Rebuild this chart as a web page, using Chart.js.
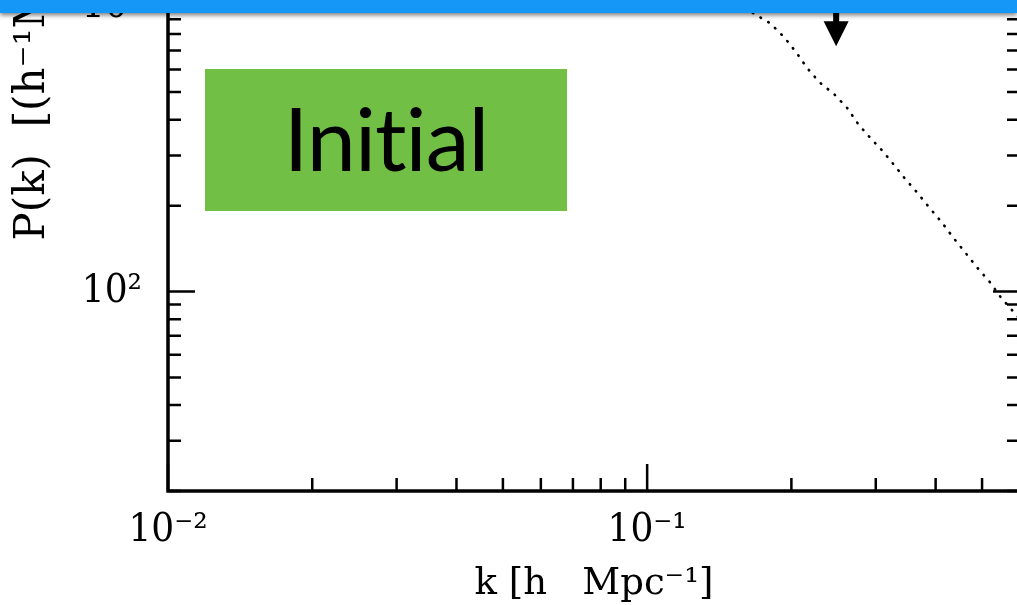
<!DOCTYPE html>
<html>
<head>
<meta charset="utf-8">
<script src="https://cdn.jsdelivr.net/npm/chart.js@4.4.1/dist/chart.umd.min.js"></script>
<style>
  html, body { margin: 0; padding: 0; width: 1017px; height: 605px; overflow: hidden; background: #fff; }
  #wrap { position: absolute; left: 0; top: -425px; width: 1060px; height: 1076px; }
  #topbar { position: absolute; left: 0; top: 0; width: 1017px; height: 13px; background: #1597f7;
            box-shadow: 0 2px 5px rgba(0,0,0,0.55); z-index: 3; }
  #badge { position: absolute; left: 205px; top: 69px; width: 362px; height: 142px; background: #71bf44;
           display: flex; align-items: center; justify-content: center; box-sizing: border-box;
           padding-bottom: 6px; letter-spacing: -1px;
           font-family: Lato, "Open Sans", sans-serif; font-size: 88px; color: #000; z-index: 2;
           font-variant-ligatures: none; font-feature-settings: "liga" 0, "clig" 0; }
</style>
</head>
<body>
<div id="wrap"><canvas id="pk" width="1060" height="1076"></canvas></div>
<div id="topbar"></div>
<div id="badge">Initial</div>
<script>
// Initial linear power spectrum, P(k) in (h^-1 Mpc)^3 versus k in h Mpc^-1
const kValues  = [0.160, 0.1665, 0.1806, 0.1932, 0.2046, 0.2158, 0.2286, 0.2455, 0.2615, 0.2758,
                  0.2921, 0.3110, 0.3264, 0.3457, 0.3663, 0.3880, 0.4130, 0.4354, 0.4612, 0.4886,
                  0.5201, 0.5458, 0.5808, 0.600];
const pkValues = [983, 945, 872, 779, 690, 607, 542, 492, 440, 386,
                  346, 309, 280, 248, 222, 197, 174, 154.5, 137, 121.3,
                  107.5, 96, 85.1, 80];

// axis ranges and labelled decades
const xRange = [0.01, 0.6];
const yRange = [20, 20000];
const xMajorTicks  = [0.01, 0.1];
const xMajorLabels = ['10⁻²', '10⁻¹'];
const yMajorTicks  = [100, 1000, 10000];
const yMajorLabels = ['10²', '10³', '10⁴'];

// downward arrow marker: k position, tail and tip in P(k)
const arrowK = [0.248];
const arrowP = [1000, 724];

const serif = "'DejaVu Serif Condensed', 'DejaVu Serif', serif";
const labelFor = (vals, labels, v) => {
  const i = vals.findIndex(t => Math.abs(Math.log10(t) - Math.log10(v)) < 1e-6);
  return i >= 0 ? labels[i] : '';
};

// log-decade tick marks drawn inward on all four sides, plus the frame and arrow
const framePlugin = {
  id: 'frameTicks',
  afterDatasetsDraw(chart) {
    const { ctx, chartArea: { left, right, top, bottom }, scales: { x, y } } = chart;
    const decadeMarks = (min, max) => {
      const out = [];
      for (let d = Math.floor(Math.log10(min)); d <= Math.ceil(Math.log10(max)); d++) {
        for (let m = 1; m <= 9; m++) {
          const v = m * Math.pow(10, d);
          if (v >= min * 0.9999 && v <= max * 1.0001) out.push({ v, major: m === 1 });
        }
      }
      return out;
    };
    ctx.save();
    ctx.strokeStyle = '#000';
    ctx.lineCap = 'butt';
    ctx.lineWidth = 2.5;
    ctx.beginPath();
    decadeMarks(xRange[0], xRange[1]).forEach(({ v, major }) => {
      const px = x.getPixelForValue(v);
      const len = major ? 27 : 13;
      ctx.moveTo(px, bottom); ctx.lineTo(px, bottom - len);
      ctx.moveTo(px, top);    ctx.lineTo(px, top + len);
    });
    decadeMarks(yRange[0], yRange[1]).forEach(({ v, major }) => {
      const py = y.getPixelForValue(v);
      const len = major ? 27 : 13;
      ctx.moveTo(left, py);  ctx.lineTo(left + len, py);
      ctx.moveTo(right, py); ctx.lineTo(right - len, py);
    });
    ctx.stroke();
    ctx.lineWidth = 3.5;
    ctx.strokeRect(left, top, right - left, bottom - top);

    // arrow
    const ax = x.getPixelForValue(arrowK[0]);
    const yTail = y.getPixelForValue(arrowP[0]);
    const yTip = y.getPixelForValue(arrowP[1]);
    const headLen = 25, headHalf = 12.5;
    ctx.fillStyle = '#000';
    ctx.fillRect(ax - 3, yTail, 6, yTip - yTail - headLen + 2);
    ctx.beginPath();
    ctx.moveTo(ax - headHalf, yTip - headLen);
    ctx.lineTo(ax + headHalf, yTip - headLen);
    ctx.lineTo(ax, yTip);
    ctx.closePath();
    ctx.fill();
    ctx.restore();
  }
};

new Chart(document.getElementById('pk'), {
  type: 'line',
  data: {
    datasets: [{
      data: kValues.map((k, i) => ({ x: k, y: pkValues[i] })),
      borderColor: '#000',
      borderWidth: 2.6,
      borderDash: [0.6, 8.4],
      borderCapStyle: 'round',
      pointRadius: 0,
      tension: 0,
      fill: false
    }]
  },
  options: {
    responsive: false,
    animation: false,
    devicePixelRatio: 1,
    layout: { padding: { top: 60, right: 40, left: 0, bottom: 0 } },
    plugins: { legend: { display: false }, tooltip: { enabled: false } },
    scales: {
      x: {
        type: 'logarithmic',
        min: xRange[0], max: xRange[1],
        grid: { display: false, drawTicks: false },
        border: { display: false },
        afterBuildTicks: s => { s.ticks = xMajorTicks.map(v => ({ value: v, major: true })); },
        afterFit: s => { s.height = 160; },
        ticks: {
          autoSkip: false, maxRotation: 0, minRotation: 0, padding: 16, color: '#000',
          font: { family: serif, size: 40 },
          callback: v => labelFor(xMajorTicks, xMajorLabels, v)
        },
        title: {
          display: true, text: 'k [h   Mpc⁻¹]', color: '#000',
          font: { family: "'DejaVu Serif', serif", size: 37 },
          padding: { top: 0, bottom: 44 }
        }
      },
      y: {
        type: 'logarithmic',
        min: yRange[0], max: yRange[1],
        grid: { display: false, drawTicks: false },
        border: { display: false },
        afterBuildTicks: s => { s.ticks = yMajorTicks.map(v => ({ value: v, major: true })); },
        afterFit: s => { s.width = 168; },
        ticks: {
          autoSkip: false, padding: 26, color: '#000',
          font: { family: serif, size: 40 },
          callback: v => labelFor(yMajorTicks, yMajorLabels, v)
        },
        title: {
          display: true, text: 'P(k)  [(h⁻¹Mpc)³]', color: '#000',
          font: { family: "'DejaVu Serif', serif", size: 42 },
          padding: { top: 8, bottom: 0 }
        }
      }
    }
  },
  plugins: [framePlugin]
});
</script>
</body>
</html>
